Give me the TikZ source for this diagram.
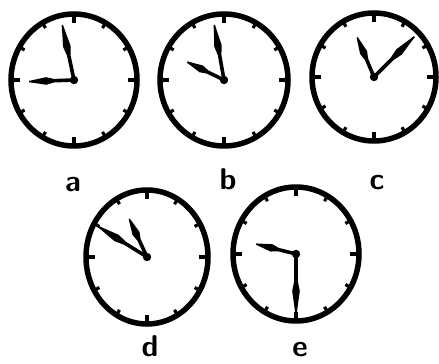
\documentclass[tikz,border=0pt]{standalone}
\usepackage{tikz}
\usetikzlibrary{shapes.geometric}

% one clock face: name, centre x, centre y, half width, half height
\newcommand{\clockface}[5]{%
  \node[face, minimum width=#4*2pt, minimum height=#5*2pt] (#1) at (#2,#3) {};
  \foreach \k in {0,30,...,330}{
    \pgfmathsetmacro{\tl}{mod(\k,90)==0 ? 9 : 6}
    \draw[tick] ($(#1.center)+({#4*cos(\k)},{#5*sin(\k)})$)
      -- ($(#1.center)+({(#4-\tl)*cos(\k)},{(#5-\tl)*sin(\k)})$);
  }
  \fill (#1.center) circle (4.2);
}
% one hand: centre node, angle, length
\newcommand{\clockhand}[3]{%
  \begin{scope}[shift={(#1.center)}, rotate=#2]
    \fill (0,1.8) -- ({0.45*#3},1.8) -- ({0.62*#3},3.8) -- ({0.88*#3},1.6)
      -- (#3,0.7) -- (#3,-0.7) -- ({0.88*#3},-1.6) -- ({0.62*#3},-3.8)
      -- ({0.45*#3},-1.8) -- (0,-1.8) -- cycle;
  \end{scope}
}
\usetikzlibrary{calc}

\begin{document}
\begin{tikzpicture}[
  x=1pt, y=1pt,
  face/.style ={ellipse, draw, line width=5.5pt, inner sep=0pt},
  tick/.style ={line width=3.2pt},
  lbl/.style  ={font=\sffamily\bfseries\fontsize{30}{30}\selectfont, anchor=base, inner sep=0pt}
]
\useasboundingbox (0,0) rectangle (439,364);

% top row
\clockface{ca}{74}{284}{63}{66}
\clockhand{ca}{182}{45}
\clockhand{ca}{102}{56}
\node[lbl] (la) at (73,172) {a};

\clockface{cb}{224}{284}{64}{66}
\clockhand{cb}{154}{41}
\clockhand{cb}{100}{56}
\node[lbl] (lb) at (228,174) {b};

\clockface{cc}{374}{287}{62}{64}
\clockhand{cc}{113}{43}
\clockhand{cc}{45}{57}
\node[lbl] (lc) at (377,174) {c};

% bottom row
\clockface{cd}{147}{107}{61}{67}
\clockhand{cd}{115}{42}
\clockhand{cd}{148}{58}
\node[lbl] (ld) at (150,7) {d};

\clockface{ce}{296}{110}{63}{67}
\clockhand{ce}{166}{41}
\clockhand{ce}{270}{60}
\node[lbl] (le) at (300,7) {e};
\end{tikzpicture}
\end{document}
